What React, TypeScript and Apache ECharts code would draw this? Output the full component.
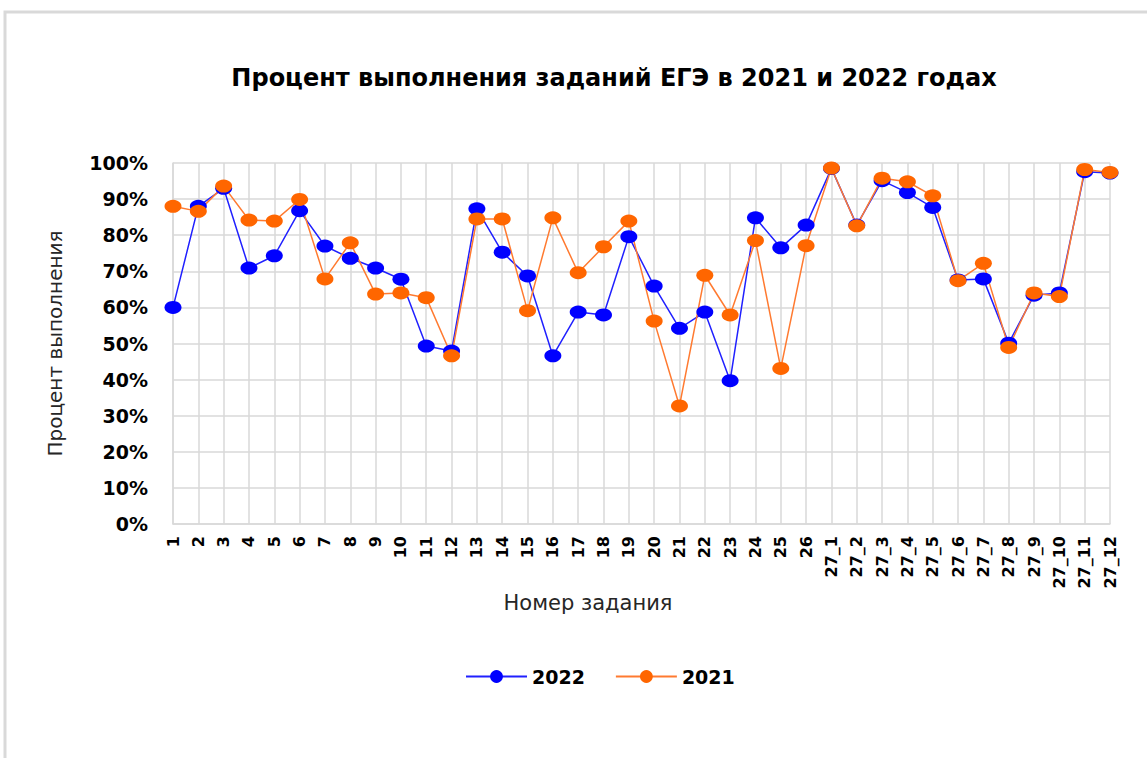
import React, { useEffect, useRef } from "react";
import * as echarts from "echarts";

const categories: string[] = [
  "1", "2", "3", "4", "5", "6", "7", "8", "9", "10", "11", "12", "13", "14", "15", "16", "17", "18", "19", "20",
  "21", "22", "23", "24", "25", "26",
  "27_1", "27_2", "27_3", "27_4", "27_5", "27_6", "27_7", "27_8", "27_9", "27_10", "27_11", "27_12",
];

const values2022: number[] = [
  60, 88, 93, 70.9, 74.3, 86.8, 77, 73.6, 70.9, 67.8, 49.3, 47.9, 87.3, 75.3, 68.7, 46.6, 58.7, 57.9, 79.6, 65.9,
  54.2, 58.7, 39.7, 84.8, 76.5, 82.8,
  98.5, 82.8, 95.1, 91.8, 87.7, 67.6, 67.9, 50.1, 63.4, 64.0, 97.6, 97.2,
];

const values2021: number[] = [
  88, 86.6, 93.6, 84.2, 83.9, 89.9, 67.9, 77.9, 63.7, 64.0, 62.7, 46.6, 84.5, 84.5, 59.1, 84.8, 69.6, 76.8, 83.9, 56.2,
  32.7, 68.9, 57.9, 78.5, 43.1, 77.1,
  98.6, 82.6, 95.8, 94.8, 90.9, 67.4, 72.2, 48.9, 64.0, 63.0, 98.2, 97.4,
];

const seriesNames = ["2022", "2021"];
const titleText = "Процент выполнения заданий ЕГЭ в 2021 и 2022 годах";
const xAxisName = "Номер задания";
const yAxisName = "Процент выполнения";

export default function App() {
  const ref = useRef<HTMLDivElement>(null);

  useEffect(() => {
    if (!ref.current) return;
    const chart = echarts.init(ref.current, null, { renderer: "svg" });
    const font = "DejaVu Sans";
    chart.setOption({
      animation: false,
      backgroundColor: "#ffffff",
      graphic: [
        {
          type: "rect",
          shape: { x: 5, y: 12, width: 1400, height: 1000 },
          style: { fill: "none", stroke: "#d9d9d9", lineWidth: 3 },
          silent: true,
        },
      ],
      title: {
        text: titleText,
        left: 609,
        top: 61,
        textAlign: "center",
        textStyle: { fontFamily: font, fontWeight: "bold", fontSize: 24, color: "#000000" },
      },
      legend: {
        left: 460,
        top: 662,
        itemWidth: 61,
        itemHeight: 16,
        itemGap: 30,
        data: seriesNames,
        textStyle: { fontFamily: font, fontWeight: "bold", fontSize: 19, color: "#000000" },
      },
      grid: { left: 173, right: 37, top: 163, bottom: 234, containLabel: false },
      xAxis: {
        type: "category",
        data: categories,
        boundaryGap: false,
        name: xAxisName,
        nameLocation: "middle",
        nameGap: 60,
        nameTextStyle: {
          fontFamily: font,
          fontSize: 21,
          color: "#262626",
          padding: [0, 107, 0, 0],
        },
        axisLine: { show: true, lineStyle: { color: "#d9d9d9", width: 1.5 } },
        axisTick: { show: false },
        axisLabel: {
          interval: 0,
          rotate: 90,
          margin: 12,
          fontFamily: font,
          fontWeight: "bold",
          fontSize: 16,
          color: "#000000",
        },
        splitLine: { show: true, interval: 0, lineStyle: { color: "#d9d9d9", width: 1.5 } },
      },
      yAxis: {
        type: "value",
        min: 0,
        max: 100,
        interval: 10,
        name: yAxisName,
        nameLocation: "middle",
        nameGap: 108,
        nameTextStyle: { fontFamily: font, fontSize: 20, color: "#262626" },
        axisLine: { show: true, lineStyle: { color: "#d9d9d9", width: 1.5 } },
        axisTick: { show: false },
        axisLabel: {
          formatter: "{value}%",
          margin: 25,
          fontFamily: font,
          fontWeight: "bold",
          fontSize: 19,
          color: "#000000",
        },
        splitLine: { show: true, lineStyle: { color: "#d9d9d9", width: 1.5 } },
      },
      series: [
        {
          name: seriesNames[0],
          type: "line",
          data: values2022,
          symbol: "circle",
          symbolSize: [17, 13],
          lineStyle: { color: "#2020ff", width: 1.5 },
          itemStyle: { color: "#0000ff" },
        },
        {
          name: seriesNames[1],
          type: "line",
          data: values2021,
          symbol: "circle",
          symbolSize: [17, 13],
          lineStyle: { color: "#ff7a30", width: 1.5 },
          itemStyle: { color: "#ff6600" },
        },
      ],
    });
    return () => chart.dispose();
  }, []);

  return (
    <div
      ref={ref}
      style={{ position: "absolute", left: 0, top: 0, width: 1147, height: 758 }}
    />
  );
}
